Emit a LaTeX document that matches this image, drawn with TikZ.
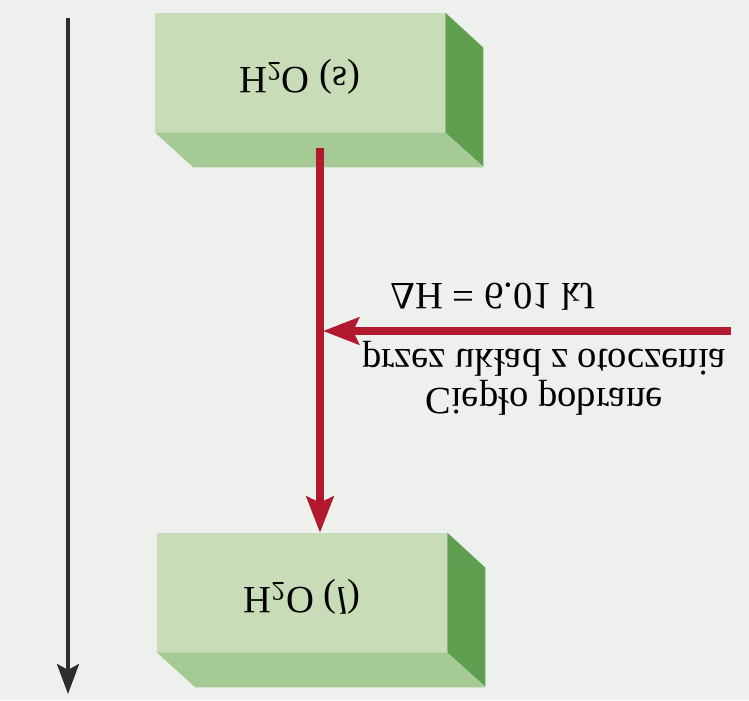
\documentclass[tikz,border=0pt]{standalone}
\usepackage{fontspec}
\setmainfont{Liberation Serif}
\usetikzlibrary{arrows.meta}
\usetikzlibrary{positioning}
\definecolor{paper}{HTML}{EEF0ED}
\definecolor{facegreen}{HTML}{C8DDB7}
\definecolor{floorgreen}{HTML}{A6CA95}
\definecolor{sidegreen}{HTML}{609F50}
\definecolor{heatred}{HTML}{B2182E}
\definecolor{axisgrey}{HTML}{2E2E2E}

\begin{document}
\begin{tikzpicture}[x=0.02cm, y=-0.02cm,
    face/.style={fill=facegreen, minimum width=5.8cm, minimum height=2.38cm, inner sep=0pt},
    flip/.style={yscale=-1, inner sep=0pt, font=\fontsize{22}{22}\selectfont},
    heatarrow/.style={draw=heatred, line width=4pt,
        -{Stealth[length=0.72cm, width=0.54cm, inset=0.12cm, fill=heatred]}},
    axisarrow/.style={draw=axisgrey, line width=2.2pt,
        -{Stealth[length=0.6cm, width=0.44cm, inset=0.12cm, fill=axisgrey]}}]

    % background, fixes the size of the page
    \fill[paper] (0,0) rectangle (749,700);

    % the two blocks of water
    \foreach \name/\px/\py in {solid/300/72.5, liquid/302/592.5} {
        \node[face] (\name) at (\px,\py) {};
        \fill[floorgreen] (\name.south west) -- (\name.south east) -- ++(38,35) -- ++(-290,0) -- cycle;
        \fill[sidegreen] (\name.north east) -- ++(38,35) -- ++(0,119) -- (\name.south east) -- cycle;
    }
    \node[flip] (solidtext) at (300,77) {H\textsubscript{2}O (s)};
    \node[flip] (liquidtext) at (302,597) {H\textsubscript{2}O (\textit{l})};

    % energy axis
    \coordinate (axistop) at (68,18);
    \coordinate (axisbottom) at (68,694);
    \draw[axisarrow] (axistop) -- (axisbottom);

    % melting
    \coordinate (melt) at (320,148);
    \draw[heatarrow] (melt) -- (melt |- liquid.north);

    % heat from the surroundings
    \coordinate (surround) at (731,331);
    \draw[heatarrow, shorten >=0.06cm] (surround) -- (surround -| melt);
    \node[flip] (enthalpy) at (493,297) {ΔH = 6.01 kJ};
    \node[flip, align=center] (heattext) at (544,378) {Ciepło pobrane\\przez układ z otoczenia};
\end{tikzpicture}
\end{document}
